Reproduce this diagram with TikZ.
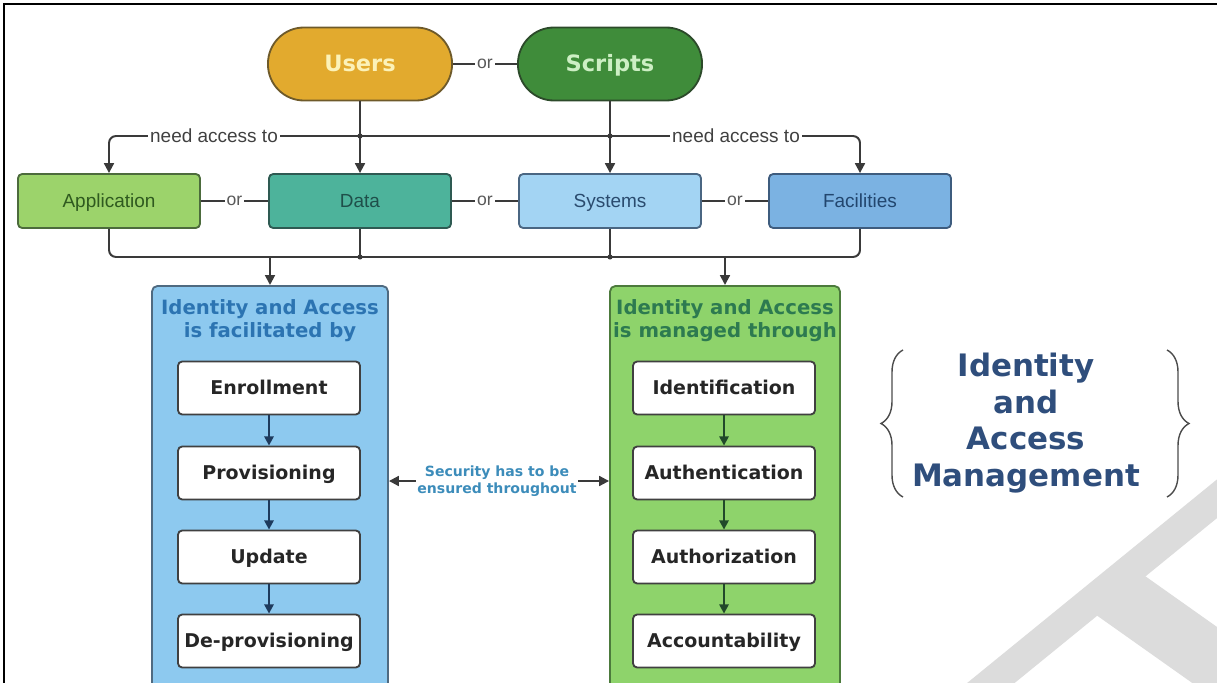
\documentclass[tikz,border=0pt]{standalone}
\usepackage{fontspec}
\setmainfont{DejaVu Sans}
\newfontfamily\arialfont{Liberation Sans}
\usetikzlibrary{arrows.meta,decorations.pathreplacing}
\definecolor{lnk}{HTML}{3A3A3A}
\definecolor{usersfill}{HTML}{E2AA2E}
\definecolor{usersdraw}{HTML}{6E5A2A}
\definecolor{userstext}{HTML}{FCF2B8}
\definecolor{scriptsfill}{HTML}{3F8C3A}
\definecolor{scriptsdraw}{HTML}{2C4A2A}
\definecolor{scriptstext}{HTML}{CDEFC4}
\definecolor{appfill}{HTML}{9CD36B}
\definecolor{appdraw}{HTML}{4C6B3C}
\definecolor{apptext}{HTML}{2F5A1F}
\definecolor{datafill}{HTML}{4DB39B}
\definecolor{datadraw}{HTML}{2E5A52}
\definecolor{datatext}{HTML}{1F4F4A}
\definecolor{sysfill}{HTML}{A3D4F3}
\definecolor{sysdraw}{HTML}{4A6682}
\definecolor{systext}{HTML}{2A4B6E}
\definecolor{facfill}{HTML}{7BB2E2}
\definecolor{facdraw}{HTML}{3E5C7E}
\definecolor{factext}{HTML}{22466E}
\definecolor{lpfill}{HTML}{8DC9EF}
\definecolor{lpdraw}{HTML}{4F6A80}
\definecolor{lptext}{HTML}{2C74B2}
\definecolor{rpfill}{HTML}{8ED36B}
\definecolor{rpdraw}{HTML}{4C7A3C}
\definecolor{rptext}{HTML}{2D7A50}
\definecolor{lparrow}{HTML}{1E3A5C}
\definecolor{rparrow}{HTML}{21492A}
\definecolor{sectext}{HTML}{3C8CBA}
\definecolor{iamtext}{HTML}{2F4E7C}
\definecolor{wmark}{HTML}{DCDCDC}
\begin{document}
\begin{tikzpicture}[x=0.025cm,y=-0.025cm,
  line/.style={draw=lnk,line width=1.4pt},
  arr/.style={line,-{Triangle[length=7pt,width=7pt]}},
  pill/.style={line width=1.3pt,rounded corners=0.9cm,minimum width=4.6cm,minimum height=1.825cm,text height=12pt,text depth=1pt,font=\fontsize{16}{18}\selectfont\bfseries},
  topbox/.style={line width=1.3pt,rounded corners=3pt,minimum width=4.55cm,minimum height=1.35cm,text height=10pt,text depth=0.5pt,font=\arialfont\fontsize{13.5}{15}\selectfont},
  orlbl/.style={fill=white,inner sep=1.5pt,text=black!65,font=\arialfont\fontsize{12.5}{14}\selectfont},
  panel/.style={line width=1.3pt,rounded corners=4pt,minimum height=10.5cm,anchor=north},
  ptitle/.style={align=center,font=\fontsize{14}{16.5}\selectfont\bfseries},
  stepbox/.style={draw=black!75,fill=white,line width=1.3pt,rounded corners=3pt,minimum width=4.55cm,minimum height=1.325cm,text height=10pt,text depth=1pt,text=black!85,font=\fontsize{13.5}{15}\selectfont\bfseries},
  larr/.style={draw=lparrow,line width=1.6pt,-{Triangle[length=6.5pt,width=6.5pt]}},
  rarr/.style={draw=rparrow,line width=1.6pt,-{Triangle[length=6.5pt,width=6.5pt]}},
  brc/.style={draw=black!70,line width=1pt,decorate,decoration={brace,amplitude=0.55cm}}]
  \useasboundingbox (0,0) rectangle (1217,683);
  % watermark and frame
  \draw[wmark,line width=0.75cm] (970,700) -- (1240,480);
  \draw[wmark,line width=1.5cm] (1110,588) -- (1240,680);
  \draw[line width=1.5pt] (4,690) -- (4,4) -- (1225,4);
  % who needs access
  \node[pill,draw=usersdraw,fill=usersfill,text=userstext] (users) at (360,64) {Users};
  \node[pill,draw=scriptsdraw,fill=scriptsfill,text=scriptstext] (scripts) at (610,64) {Scripts};
  \draw[line] (users) -- node[orlbl] {or} (scripts);
  % what they need access to
  \node[topbox,draw=appdraw,fill=appfill,text=apptext] (app) at (109,201) {Application};
  \node[topbox,draw=datadraw,fill=datafill,text=datatext] (data) at (360,201) {Data};
  \node[topbox,draw=sysdraw,fill=sysfill,text=systext] (sys) at (610,201) {Systems};
  \node[topbox,draw=facdraw,fill=facfill,text=factext] (fac) at (860,201) {Facilities};
  \draw[line] (app) -- node[orlbl] {or} (data);
  \draw[line] (data) -- node[orlbl] {or} (sys);
  \draw[line] (sys) -- node[orlbl] {or} (fac);
  \coordinate (jl) at (360,136);
  \coordinate (jr) at (610,136);
  \draw[arr,rounded corners=5pt] (jl) -- (app.north |- jl) -- (app.north);
  \draw[arr,rounded corners=5pt] (jl) -- (fac.north |- jl) -- (fac.north);
  \draw[arr] (users) -- (data);
  \draw[arr] (scripts) -- (sys);
  \fill[lnk] (jl) circle[radius=1.8pt] (jr) circle[radius=1.8pt];
  \node[orlbl,text=black!75,font=\arialfont\fontsize{13.5}{15}\selectfont] (nal) at (214,136) {need access to};
  \node[orlbl,text=black!75,font=\arialfont\fontsize{13.5}{15}\selectfont] (nar) at (736,136) {need access to};
  % collecting bus
  \coordinate (bl) at (270,257);
  \coordinate (br) at (725,257);
  \draw[line,rounded corners=5pt] (app.south) -- (app.south |- bl) -- (fac.south |- bl) -- (fac.south);
  \draw[line] (data.south) -- (data.south |- bl);
  \draw[line] (sys.south) -- (sys.south |- bl);
  \fill[lnk] (data.south |- bl) circle[radius=1.8pt] (sys.south |- bl) circle[radius=1.8pt];
  % the two panels
  \node[panel,draw=lpdraw,fill=lpfill,minimum width=5.9cm] (lp) at (270,285) {};
  \node[panel,draw=rpdraw,fill=rpfill,minimum width=5.75cm] (rp) at (725,285) {};
  \draw[arr] (bl) -- (lp.north);
  \draw[arr] (br) -- (rp.north);
  \node[ptitle,text=lptext] (lpt) at (270,321) {Identity and Access\\is facilitated by};
  \node[ptitle,text=rptext] (rpt) at (725,321) {Identity and Access\\is managed through};
  \node[stepbox] (enr) at (269,388) {Enrollment};
  \node[stepbox] (prov) at (269,473) {Provisioning};
  \node[stepbox] (upd) at (269,557) {Update};
  \node[stepbox] (deprov) at (269,641) {De-provisioning};
  \draw[larr] (enr) -- (prov);
  \draw[larr] (prov) -- (upd);
  \draw[larr] (upd) -- (deprov);
  \node[stepbox] (ident) at (724,388) {Identification};
  \node[stepbox] (authn) at (724,473) {Authentication};
  \node[stepbox] (authz) at (724,557) {Authorization};
  \node[stepbox] (acct) at (724,641) {Accountability};
  \draw[rarr] (ident) -- (authn);
  \draw[rarr] (authn) -- (authz);
  \draw[rarr] (authz) -- (acct);
  % security in between
  \node[align=center,text=sectext,inner sep=1pt,font=\fontsize{10}{12}\selectfont\bfseries] (sec) at (497,481) {Security has to be\\ensured throughout};
  \draw[arr] (sec.west) -- (sec.west -| lp.east);
  \draw[arr] (sec.east) -- (sec.east -| rp.west);
  % heading in braces
  \node[align=center,text=iamtext,font=\fontsize{22}{26}\selectfont\bfseries] (iam) at (1026,423) {Identity\\and\\Access\\Management};
  \draw[brc] (903,497) -- (903,350);
  \draw[brc] (1167,350) -- (1167,497);
\end{tikzpicture}
\end{document}
